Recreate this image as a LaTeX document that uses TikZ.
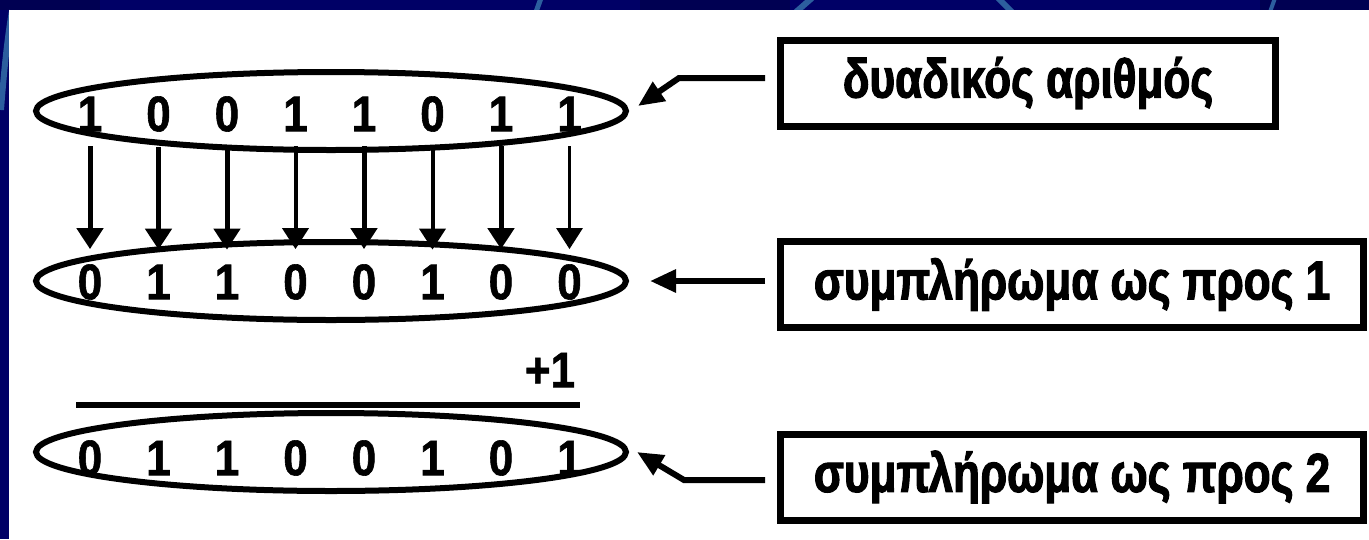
\documentclass[tikz,border=0pt]{standalone}
\usepackage{fontspec}
\usetikzlibrary{shapes.geometric,arrows.meta}
\newfontfamily\labfont[FakeStretch=0.80,FakeBold=2]{Liberation Sans}
\newfontfamily\digfont[FakeStretch=0.88,FakeBold=1.2]{Liberation Sans}
\definecolor{navy}{HTML}{000066}
\definecolor{navydark}{HTML}{000052}
\definecolor{stripe}{HTML}{2C5E9E}
\begin{document}
\begin{tikzpicture}[x=1pt,y=-1pt,
  bin/.style={draw=black,line width=6pt,ellipse,minimum width=590pt,minimum height=78pt,inner sep=0pt},
  bit/.style={inner sep=0pt,font=\digfont\bfseries\fontsize{50}{50}\selectfont},
  lab/.style={draw=black,line width=7pt,minimum height=86pt,inner sep=0pt,font=\labfont\bfseries\fontsize{55}{60}\selectfont},
  flip/.style={-{Triangle[length=21pt,width=26pt]}},
  ptr/.style={line width=6pt,-{Triangle[length=26pt,width=22pt]}}
]
\useasboundingbox (0,0) rectangle (1369,539);
% slide background
\fill[navy] (0,0) rectangle (1369,539);
\fill[navydark] (0,0) rectangle (100,10);
\fill[navydark] (640,0) rectangle (790,10);
\fill[navydark] (1260,0) rectangle (1369,10);
\begin{scope}
  \clip (0,0) rectangle (1369,10);
  \draw[stripe,line width=5pt] (541,-2) -- (536,12);
  \draw[stripe,line width=6pt] (812,-2) -- (796,12);
  \draw[stripe,line width=6pt] (998,-2) -- (1012,12);
  \draw[stripe,line width=4pt] (1275,-2) -- (1270,12);
\end{scope}
\begin{scope}
  \clip (0,0) rectangle (9,539);
  \draw[stripe,line width=6pt] (14,0) .. controls (8,30) and (4,70) .. (1,110);
\end{scope}
\fill[white] (9,10) rectangle (1369,539);

% ellipses
\node[bin] (e1) at (331,111) {};
\node[bin] (e2) at (331,281) {};
\node[bin] (e3) at (331,452) {};

% digits
\foreach \b [count=\i] in {1,0,0,1,1,0,1,1}
  \node[bit] (u\i) at ({90+68.5*(\i-1)},114) {\b};
\foreach \b [count=\i] in {0,1,1,0,0,1,0,0}
  \node[bit] (l\i) at ({90+68.5*(\i-1)},282) {\b};
\foreach \b [count=\i] in {0,1,1,0,0,1,0,1}
  \node[bit] (r\i) at ({90+68.5*(\i-1)},458) {\b};

% complement arrows
\foreach \i/\w in {1/5,2/5,3/5,4/4,5/5,6/4,7/5,8/3}
  \draw[flip,line width=\w pt] ([yshift=-15pt]u\i.south) -- ([yshift=15pt]l\i.north);

% addition
\coordinate (sumL) at (76,405);
\coordinate (sumR) at (580,405);
\draw[line width=6pt] (sumL) -- (sumR);
\node[bit] (plus) at (550,370) {+1};

% labels
\node[lab,minimum width=495pt] (b1) at (1028,83) {δυαδικός αριθμός};
\node[lab,minimum width=583pt] (b2) at (1072,284.5) {συμπλήρωμα ως προς 1};
\node[lab,minimum width=583pt] (b3) at (1072,477) {συμπλήρωμα ως προς 2};

% pointers
\draw[ptr] ([xshift=-12pt,yshift=5pt]b1.west) -- ++(-86,0) -- ([xshift=9pt,yshift=5pt]e1.east);
\draw[ptr] ([xshift=-12pt,yshift=3.5pt]b2.west) -- ([xshift=21pt]e2.east);
\draw[ptr] ([xshift=-12pt,yshift=-3pt]b3.west) -- ++(-81,0) -- ([xshift=8pt]e3.east);
\end{tikzpicture}
\end{document}
